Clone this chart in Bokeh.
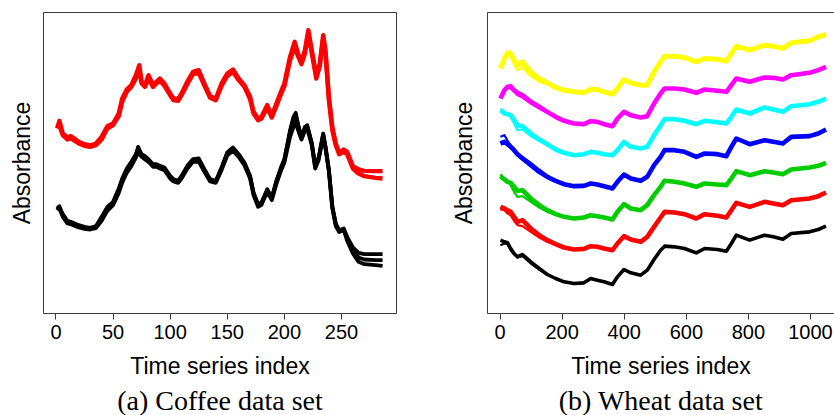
from bokeh.plotting import figure
from bokeh.layouts import row
from bokeh.models import Range1d, FixedTicker, Title, LinearAxis
from bokeh.embed import file_html
from bokeh.resources import INLINE

# ---------------- Coffee data (index, absorbance in arbitrary units) ----------------
coffee_red_idx = [1, 3, 6, 10, 13, 20, 25, 30, 35, 40, 45, 50, 55, 58, 62, 66, 70, 73, 75, 78,
                  81, 85, 88, 91, 95, 100, 103, 107, 110, 115, 120, 125, 130, 135, 140, 145, 150,
                  155, 160, 165, 170, 173, 177, 180, 185, 189, 193, 197, 200, 205, 209, 212, 215,
                  218, 221, 224, 228, 231, 234, 236, 239, 242, 245, 248, 252, 255, 260, 265, 270,
                  280, 286]
coffee_red_a = [555, 578, 540, 528, 532, 515, 508, 504, 510, 530, 562, 570, 600, 645, 672, 685, 715,
                745, 695, 685, 715, 685, 695, 705, 690, 660, 645, 643, 660, 695, 725, 730, 690, 652,
                645, 690, 720, 732, 705, 685, 650, 605, 585, 590, 625, 592, 630, 665, 690, 770, 815,
                780, 755, 790, 850, 790, 712, 750, 835, 790, 650, 560, 510, 482, 492, 485, 442, 432,
                428, 427, 427]
coffee_red_b = [570, 565, 535, 522, 525, 510, 503, 500, 505, 522, 555, 565, 592, 635, 665, 680, 705,
                730, 690, 680, 705, 680, 690, 698, 683, 655, 640, 638, 655, 688, 718, 722, 684, 647,
                640, 683, 713, 725, 700, 680, 643, 600, 580, 585, 618, 588, 622, 658, 682, 760, 800,
                772, 748, 780, 838, 782, 705, 742, 825, 780, 640, 550, 505, 478, 485, 478, 435, 420,
                412, 407, 405]

coffee_black_idx = [1, 3, 6, 10, 13, 20, 25, 30, 35, 40, 45, 50, 55, 58, 62, 66, 70, 72, 75, 78,
                    81, 85, 88, 91, 95, 100, 103, 107, 110, 115, 120, 125, 130, 135, 140, 145, 150,
                    155, 160, 165, 170, 173, 177, 180, 185, 189, 193, 197, 200, 205, 208, 210, 213,
                    215, 218, 220, 224, 227, 230, 234, 236, 239, 242, 245, 248, 252, 255, 260, 265,
                    270, 280, 286]
coffee_black_a = [315, 322, 295, 275, 272, 262, 257, 255, 260, 285, 315, 330, 370, 400, 430, 450, 475,
                  500, 475, 468, 460, 445, 445, 440, 435, 410, 400, 395, 410, 440, 460, 462, 430, 400,
                  395, 435, 480, 495, 475, 450, 410, 360, 325, 330, 370, 345, 395, 435, 460, 550, 590,
                  602, 550, 525, 555, 565, 510, 440, 465, 540, 500, 430, 320, 270, 250, 255, 230, 198,
                  182, 178, 178, 178]
coffee_black_b = [320, 315, 290, 270, 268, 258, 254, 252, 256, 278, 308, 325, 362, 392, 422, 442, 468,
                  485, 470, 462, 455, 440, 440, 435, 430, 405, 396, 392, 405, 434, 455, 456, 425, 396,
                  392, 430, 474, 488, 470, 445, 405, 355, 320, 326, 365, 340, 388, 428, 452, 530, 560,
                  570, 540, 522, 548, 555, 505, 435, 460, 530, 495, 425, 315, 262, 245, 250, 225, 190,
                  168, 162, 160, 160]
coffee_black_c = [310, 318, 298, 278, 275, 265, 260, 257, 262, 290, 320, 335, 375, 405, 435, 455, 478,
                  495, 478, 472, 463, 448, 448, 443, 438, 413, 403, 398, 413, 443, 463, 465, 433, 403,
                  398, 438, 483, 498, 478, 453, 413, 363, 328, 333, 373, 348, 398, 438, 463, 545, 580,
                  590, 555, 530, 560, 562, 512, 445, 468, 538, 502, 432, 322, 268, 245, 252, 218, 180,
                  155, 148, 145, 143]

coffee_ticks = [0, 50, 100, 150, 200, 250]

# ---------------- Wheat data ----------------
wheat_idx = [1, 14, 24, 34, 45, 56, 72, 99, 126, 152, 179, 206, 238, 270, 292, 313, 335, 362, 378,
             399, 421, 453, 474, 496, 517, 530, 562, 594, 632, 659, 700, 729, 745, 761, 804, 852,
             880, 911, 938, 997, 1025, 1050]
wheat_yellow = [735, 765, 782, 780, 760, 745, 755, 725, 705, 692, 678, 670, 665, 663, 672, 672, 665,
                658, 675, 702, 692, 685, 685, 725, 755, 772, 772, 768, 755, 765, 763, 757, 780, 802,
                790, 805, 802, 795, 812, 818, 830, 837]
wheat_magenta = [645, 670, 680, 682, 670, 662, 655, 635, 620, 605, 590, 578, 570, 568, 577, 575, 568,
                 562, 585, 605, 595, 588, 592, 630, 660, 675, 675, 672, 662, 672, 668, 665, 685, 705,
                 695, 708, 707, 702, 715, 722, 730, 740]
wheat_cyan = [610, 600, 598, 595, 580, 565, 562, 540, 522, 508, 492, 482, 475, 478, 485, 482, 478,
              475, 490, 515, 500, 495, 500, 535, 565, 583, 583, 578, 568, 578, 574, 570, 590, 612,
              600, 618, 612, 605, 622, 628, 635, 645]
wheat_blue = [510, 515, 508, 500, 490, 478, 465, 445, 425, 410, 398, 388, 382, 383, 390, 387, 382,
              375, 395, 417, 405, 398, 410, 445, 470, 490, 490, 485, 470, 480, 478, 472, 500, 525,
              508, 520, 515, 510, 530, 532, 540, 552]
wheat_green = [412, 402, 395, 392, 380, 368, 370, 345, 325, 310, 298, 290, 285, 288, 295, 292, 288,
               282, 305, 328, 315, 310, 325, 355, 380, 398, 395, 390, 380, 390, 387, 385, 405, 427,
               415, 427, 423, 418, 432, 438, 443, 452]
wheat_red = [320, 315, 310, 305, 290, 275, 280, 255, 235, 220, 208, 198, 192, 194, 202, 200, 195,
             190, 210, 232, 222, 215, 230, 260, 288, 305, 303, 298, 285, 298, 293, 288, 310, 332,
             320, 335, 330, 325, 340, 345, 352, 363]
wheat_black = [220, 215, 212, 195, 180, 170, 177, 155, 135, 117, 105, 95, 90, 92, 105, 100, 95,
               87, 110, 132, 122, 115, 130, 162, 190, 202, 200, 195, 182, 195, 192, 187, 210, 235,
               220, 235, 230, 223, 240, 245, 252, 262]

# replicate spectra that separate from the main trace at the start (first 11 indices)
wheat_rep_idx = [1, 14, 24, 34, 45, 56, 72, 99, 126, 152, 179]
wheat_yellow_2 = [738, 768, 775, 772, 748, 730, 738, 712, 695, 688, 678]
wheat_magenta_2 = [650, 672, 676, 676, 665, 655, 648, 630, 615, 602, 590]
wheat_cyan_2 = [615, 605, 596, 590, 570, 550, 552, 532, 518, 505, 492]
wheat_blue_2 = [530, 535, 518, 505, 495, 480, 470, 452, 432, 414, 398]
wheat_green_2 = [418, 405, 398, 385, 365, 350, 352, 335, 318, 305, 298]
wheat_red_2 = [312, 310, 300, 295, 278, 265, 262, 245, 228, 215, 208]
wheat_black_2 = [205, 210, 208, 190, 178, 168, 172, 150, 132, 117, 105]

wheat_ticks = [0, 200, 400, 600, 800, 1000]

SANS = "Liberation Sans"
SERIF = "Liberation Serif"
FRAME = "#3a3a3a"


def style_common(p, ticks):
    p.grid.visible = False
    p.background_fill_color = "white"
    p.border_fill_color = "white"
    xa = p.xaxis[0]
    xa.ticker = FixedTicker(ticks=ticks)
    xa.minor_tick_line_color = None
    xa.major_tick_in = 0
    xa.major_tick_out = 6
    xa.major_tick_line_color = FRAME
    xa.axis_line_color = FRAME
    xa.major_label_text_font = SANS
    xa.major_label_text_font_size = "20px"
    xa.major_label_text_color = "black"
    xa.major_label_standoff = 5
    xa.axis_label = "Time series index"
    xa.axis_label_text_font = SANS
    xa.axis_label_text_font_size = "23px"
    xa.axis_label_text_font_style = "normal"
    xa.axis_label_text_color = "black"
    xa.axis_label_standoff = 11
    ya = p.yaxis[0]
    ya.ticker = FixedTicker(ticks=[])
    ya.minor_tick_line_color = None
    ya.major_tick_line_color = None
    ya.major_tick_out = 0
    ya.major_tick_in = 0
    ya.major_label_standoff = 0
    ya.axis_label = "Absorbance"
    ya.axis_label_text_font = SANS
    ya.axis_label_text_font_size = "23px"
    ya.axis_label_text_font_style = "normal"
    ya.axis_label_text_color = "black"


H = 425
W1 = 445
W2 = 834 - W1
BOTTOM = H - 313

# ---------------- Left panel: Coffee ----------------
p1 = figure(width=W1, height=H, output_backend="svg", toolbar_location=None,
            x_range=Range1d(-10.9, 298.2), y_range=Range1d(0, 903),
            min_border_left=43, min_border_right=W1 - 396, min_border_top=12,
            min_border_bottom=BOTTOM)
style_common(p1, coffee_ticks)
p1.yaxis[0].axis_line_color = None
p1.yaxis[0].axis_label_standoff = 9
p1.outline_line_color = FRAME
p1.outline_line_width = 1
p1.outline_line_alpha = 1

for ys in (coffee_red_a, coffee_red_b):
    p1.line(coffee_red_idx, ys, line_color="#FF0000", line_width=4.4, line_join="round")
for ys in (coffee_black_a, coffee_black_b, coffee_black_c):
    p1.line(coffee_black_idx, ys, line_color="black", line_width=3.8, line_join="round")

p1.add_layout(Title(text="(a) Coffee data set", text_font=SERIF, text_font_size="28px",
                    text_font_style="normal", text_color="black", align="center",
                    standoff=3), "below")

# ---------------- Right panel: Wheat ----------------
p2 = figure(width=W2, height=H, output_backend="svg", toolbar_location=None,
            x_range=Range1d(-40.6, 1077.3), y_range=Range1d(0, 903),
            min_border_left=42, min_border_right=0, min_border_top=12,
            min_border_bottom=BOTTOM)
style_common(p2, wheat_ticks)
p2.outline_line_color = None
p2.yaxis[0].axis_line_color = FRAME
p2.yaxis[0].axis_label_standoff = 11
top_axis = LinearAxis(ticker=FixedTicker(ticks=[]), axis_line_color=FRAME,
                      major_tick_line_color=None, minor_tick_line_color=None,
                      major_tick_out=0, major_tick_in=0, major_label_standoff=0)
p2.add_layout(top_axis, "above")

wheat_series = [
    (wheat_black, wheat_black_2, "black", 3.6),
    (wheat_red, wheat_red_2, "#FF0000", 4.6),
    (wheat_green, wheat_green_2, "#00CD00", 4.6),
    (wheat_blue, wheat_blue_2, "#0000FF", 4.6),
    (wheat_cyan, wheat_cyan_2, "#00FFFF", 4.6),
    (wheat_magenta, wheat_magenta_2, "#FF00FF", 4.6),
    (wheat_yellow, wheat_yellow_2, "#FFFF00", 5.0),
]
for main, rep, col, lw in wheat_series:
    p2.line(wheat_idx, main, line_color=col, line_width=lw, line_join="round")
    p2.line(wheat_rep_idx, rep, line_color=col, line_width=2.2, line_join="round")

p2.add_layout(Title(text="(b) Wheat data set", text_font=SERIF, text_font_size="28px",
                    text_font_style="normal", text_color="black", align="center",
                    standoff=3), "below")

layout = row(p1, p2)
open("out.html", "w").write(file_html(layout, INLINE))
